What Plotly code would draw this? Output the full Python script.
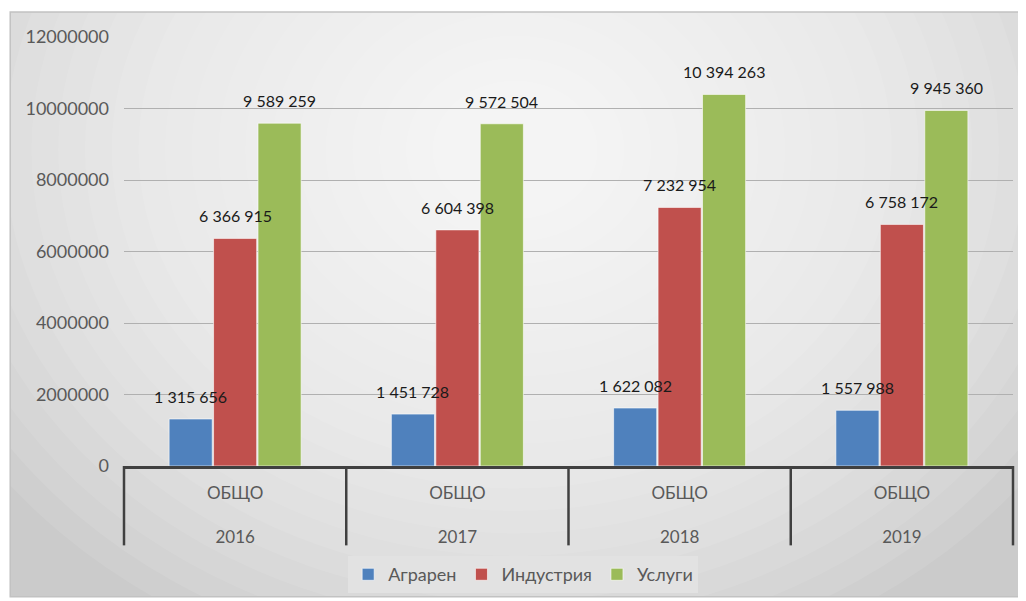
import plotly.graph_objects as go

# --- data -------------------------------------------------------------
years = ["2016", "2017", "2018", "2019"]
level = "ОБЩО"

agrarian = [1315656, 1451728, 1622082, 1557988]
industry = [6366915, 6604398, 7232954, 6758172]
services = [9589259, 9572504, 10394263, 9945360]

series_names = ["Аграрен", "Индустрия", "Услуги"]
colors = ["#4f81bd", "#c0504d", "#9bbb59"]

y_ticks = [0, 2000000, 4000000, 6000000, 8000000, 10000000, 12000000]

FONT = "Lato"

# figure geometry (page has an 8px body margin)
W, H = 1018, 593
ML, MR, MT, MB = 116, 13, 29, 135
BARGAP = 0.4
plot_w = W - ML - MR
slot = plot_w / len(years) * (1 - BARGAP) / len(series_names)

fig = go.Figure()
all_vals = [agrarian, industry, services]
for name, vals, col in zip(series_names, all_vals, colors):
    fig.add_trace(go.Bar(x=years,
                         y=vals,
                         name=name,
                         marker=dict(color=col, line=dict(color="rgba(255,255,255,0.6)", width=1))))

# data labels as annotations so neighbouring bars don't cover them
for i, vals in enumerate(all_vals):
    for j, v in enumerate(vals):
        fig.add_annotation(x=j, y=v, text=f"{v:,}".replace(",", " "),
                           showarrow=False, yanchor="bottom",
                           xshift=(i - 1) * slot, yshift=11,
                           font=dict(family=FONT, size=16, color="#1a1a1a"))

# grey chart area, lightening towards the upper centre (approximate radial gradient)
fig.add_shape(type="rect", xref="paper", yref="paper",
              x0=-0.128, x1=1.008, y0=-0.305, y1=1.058,
              fillcolor="#cbcbcb", line=dict(color="#c2c2c2", width=1.5), layer="below")
cx, cy, hx, hy = 0.44, 0.737, 0.63, 1.096
n_rings = 22
for k in range(n_rings):
    r = 1.15 - k * 1.05 / n_rings
    fig.add_shape(type="circle", xref="paper", yref="paper",
                  x0=cx - r * hx, x1=cx + r * hx, y0=cy - r * hy, y1=cy + r * hy,
                  fillcolor="rgba(255,255,255,0.085)", line=dict(width=0), layer="below")
# white cover outside the frame (ellipses spill out)
for x0, x1, y0, y1 in [(-0.2, -0.128, -0.5, 1.3), (1.008, 1.1, -0.5, 1.3),
                       (-0.2, 1.1, 1.058, 1.3), (-0.2, 1.1, -0.5, -0.305)]:
    fig.add_shape(type="rect", xref="paper", yref="paper", x0=x0, x1=x1, y0=y0, y1=y1,
                  fillcolor="white", line=dict(width=0), layer="below")
fig.add_shape(type="rect", xref="paper", yref="paper",
              x0=-0.128, x1=1.008, y0=-0.305, y1=1.058,
              fillcolor="rgba(0,0,0,0)", line=dict(color="#c2c2c2", width=1.5), layer="below")

# category dividers reaching down through the two label rows
for i in range(len(years) + 1):
    fig.add_shape(type="line", xref="paper", yref="paper",
                  x0=i / len(years), x1=i / len(years), y0=0, y1=-0.185,
                  line=dict(color="#404040", width=2.5))

fig.update_layout(
    width=W, height=H,
    margin=dict(l=ML, r=MR, t=MT, b=MB, autoexpand=False),
    paper_bgcolor="white",
    plot_bgcolor="rgba(0,0,0,0)",
    barmode="group",
    bargap=BARGAP,
    bargroupgap=0.03,
    font=dict(family=FONT, size=16, color="#595959"),
    xaxis=dict(type="category",
               range=[-0.5, len(years) - 0.5],
               tickvals=years,
               ticktext=[level + "<br><br>" + y for y in years],
               tickangle=0,
               showline=True, linecolor="#404040", linewidth=2.5,
               ticks="", ticklabelstandoff=10,
               automargin=False,
               tickfont=dict(family=FONT, size=17, color="#595959"),
               showgrid=False),
    yaxis=dict(range=[0, 12000000], tickvals=y_ticks, tickformat="d",
               showgrid=True, gridcolor="#b0b0b0", gridwidth=1,
               zeroline=False, showline=False, ticks="",
               ticklabelstandoff=14, automargin=False,
               tickfont=dict(family=FONT, size=18, color="#595959")),
    legend=dict(orientation="h", x=0.449, xanchor="center", y=-0.21, yanchor="top",
                bgcolor="#e2e2e2", font=dict(family=FONT, size=18, color="#595959"),
                itemwidth=30, traceorder="normal"),
)

fig.write_html("out.html")
